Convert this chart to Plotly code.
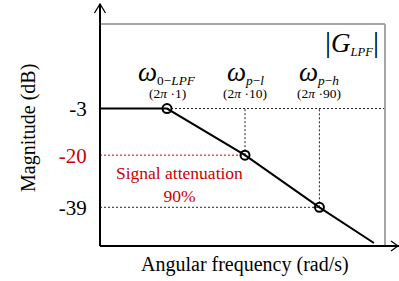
import math
import plotly.graph_objects as go

# ---- data ----
point_freq = [1, 10, 90]                      # rad/s (x 2π)
point_mag = [-3, -20, -39]                    # dB
point_names = ["0−<i>LPF</i>", "<i>p</i>−<i>l</i>", "<i>p</i>−<i>h</i>"]
point_sub = ["(2<i>π</i> ·1)", "(2<i>π</i> ·10)", "(2<i>π</i> ·90)"]
curve_freq = [0.138, 1, 10, 90, 450]
curve_mag = [-3, -3, -20, -39, -52]
ytick_vals = [-3, -20, -39]
ytick_text = ["-3", '<span style="color:#cc0000">-20</span>', "-39"]

X_RANGE = [-0.859, 2.795]   # log10
Y_RANGE = [-53.1, 27.8]
x_left = 10 ** X_RANGE[0]
x_right = 10 ** X_RANGE[1]

FONT = "Times New Roman, Liberation Serif, serif"
RED = "#cc0000"
DOT = "2px,2px"

fig = go.Figure()

# dotted guide lines
fig.add_trace(go.Scatter(x=[point_freq[0], x_right], y=[point_mag[0]] * 2, mode="lines",
                         line=dict(color="#222", width=1, dash=DOT), hoverinfo="skip"))
fig.add_trace(go.Scatter(x=[x_left, point_freq[1]], y=[point_mag[1]] * 2, mode="lines",
                         line=dict(color=RED, width=1, dash=DOT), hoverinfo="skip"))
fig.add_trace(go.Scatter(x=[x_left, point_freq[2]], y=[point_mag[2]] * 2, mode="lines",
                         line=dict(color="#222", width=1, dash=DOT), hoverinfo="skip"))
for f, m in zip(point_freq[1:], point_mag[1:]):
    fig.add_trace(go.Scatter(x=[f, f], y=[m, point_mag[0]], mode="lines",
                             line=dict(color="#222", width=1, dash=DOT), hoverinfo="skip"))

# response curve
fig.add_trace(go.Scatter(x=curve_freq, y=curve_mag, mode="lines",
                         line=dict(color="black", width=2), hoverinfo="skip"))
# marked points
fig.add_trace(go.Scatter(x=point_freq, y=point_mag, mode="markers",
                         marker=dict(symbol="circle-open", size=9, color="black",
                                     line=dict(width=2, color="black")),
                         hoverinfo="skip"))

ann = []
for f, m, n, s in zip(point_freq, point_mag, point_names, point_sub):
    ann.append(dict(x=math.log10(f), y=point_mag[0], xref="x", yref="y", yshift=36,
                    text='<span style="font-size:27px"><i>ω</i></span><sub>' + n + '</sub>',
                    showarrow=False, font=dict(family=FONT, size=19, color="black"),
                    xanchor="center", yanchor="middle"))
    ann.append(dict(x=math.log10(f), y=point_mag[0], xref="x", yref="y", yshift=15,
                    text=s, showarrow=False, font=dict(family=FONT, size=13.5, color="black"),
                    xanchor="center", yanchor="middle"))

ann.append(dict(x=(352 - 100) / 285, y=(246 - 42) / 222, xref="paper", yref="paper",
                text='<span style="font-size:30px">|</span><span style="font-size:27px"><i>G</i></span>'
                     '<sub><i>LPF</i></sub><span style="font-size:30px">|</span>',
                showarrow=False, font=dict(family=FONT, size=18, color="black"),
                xanchor="center", yanchor="middle"))
ann.append(dict(x=(179 - 100) / 285, y=(246 - 184) / 222, xref="paper", yref="paper",
                text="Signal attenuation<br>90%", showarrow=False,
                font=dict(family=FONT, size=17.5, color=RED), align="center",
                xanchor="center", yanchor="middle"))
ann.append(dict(x=(28 - 100) / 285, y=(246 - 128) / 222, xref="paper", yref="paper",
                text="Magnitude (dB)", textangle=-90, showarrow=False,
                font=dict(family=FONT, size=20, color="black"),
                xanchor="center", yanchor="middle"))
ann.append(dict(x=(245 - 100) / 285, y=(246 - 264) / 222, xref="paper", yref="paper",
                text="Angular frequency (rad/s)", showarrow=False,
                font=dict(family=FONT, size=20, color="black"),
                xanchor="center", yanchor="middle"))

def px(v):
    return (v - 100) / 285

def py(v):
    return (246 - v) / 222

shapes = [
    # gray frame (top + right)
    dict(type="line", xref="paper", yref="paper", x0=0, x1=1, y0=1, y1=1,
         line=dict(color="#a6a6a6", width=2)),
    dict(type="line", xref="paper", yref="paper", x0=1, x1=1, y0=0, y1=1,
         line=dict(color="#a6a6a6", width=2)),
    # axes with arrows
    dict(type="line", xref="paper", yref="paper", x0=0, x1=0, y0=0, y1=py(4),
         line=dict(color="black", width=2)),
    dict(type="line", xref="paper", yref="paper", x0=0, x1=px(399), y0=0, y1=0,
         line=dict(color="black", width=2)),
    dict(type="path", xref="paper", yref="paper",
         path=f"M {px(94.5)} {py(13)} L {px(100)} {py(4)} L {px(105.5)} {py(13)}",
         line=dict(color="black", width=1.3)),
    dict(type="path", xref="paper", yref="paper",
         path=f"M {px(391)} {py(241)} L {px(398)} {py(246)} L {px(391)} {py(251)}",
         line=dict(color="black", width=1.3)),
]

fig.update_layout(
    width=399, height=281,
    margin=dict(l=100, r=14, t=24, b=35, autoexpand=False),
    paper_bgcolor="white", plot_bgcolor="white",
    showlegend=False,
    annotations=ann, shapes=shapes,
    xaxis=dict(type="log", range=X_RANGE, showgrid=False, zeroline=False,
               showline=False, showticklabels=False, ticks="", automargin=False),
    yaxis=dict(range=Y_RANGE, showgrid=False, zeroline=False, showline=False,
               tickvals=ytick_vals, ticktext=ytick_text, ticks="outside",
               ticklen=8, tickcolor="rgba(0,0,0,0)", automargin=False,
               tickfont=dict(family=FONT, size=21, color="black")),
)

fig.write_html("out.html", config={"displayModeBar": False},
               post_script="document.body.style.margin='0';document.body.style.overflow='hidden';")
